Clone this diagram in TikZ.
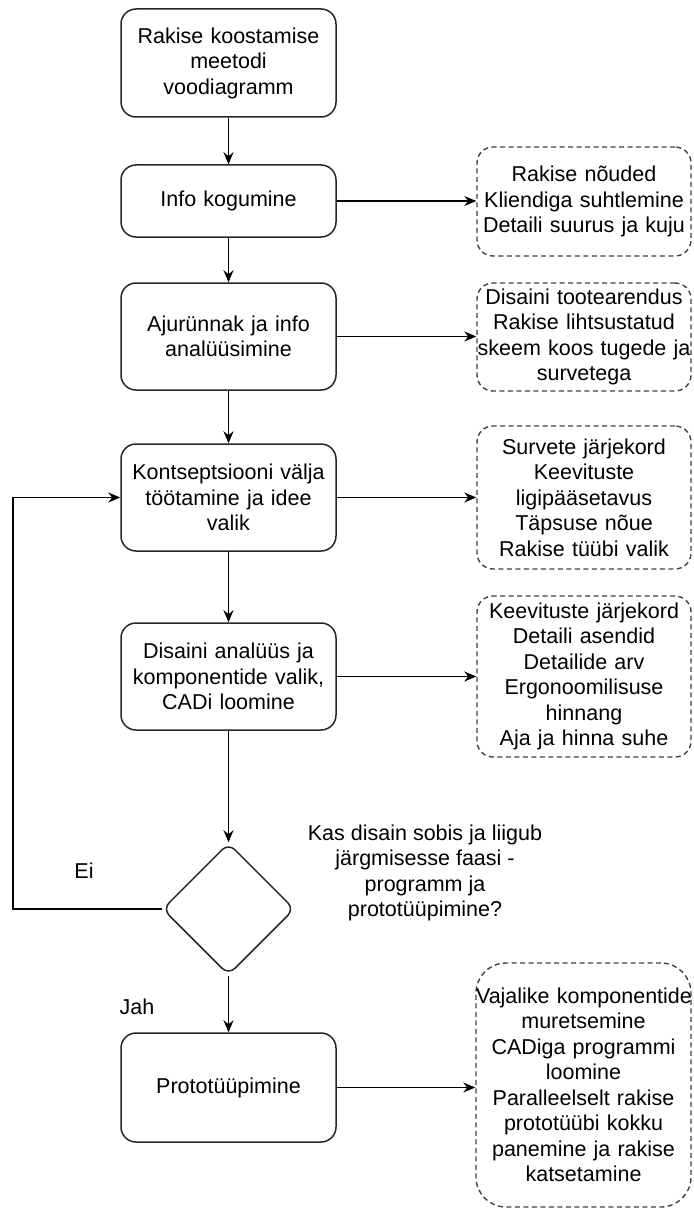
\documentclass[tikz,border=0pt]{standalone}
\usepackage{fontspec}
\setmainfont{Liberation Sans}
\usetikzlibrary{arrows.meta,shapes.geometric}
\begin{document}
\begin{tikzpicture}[x=1pt,y=-1pt,
  font=\fontsize{21.5}{25.5}\selectfont,
  proc/.style={draw=black!85, line width=1.5pt, rounded corners=15pt,
    minimum width=215pt, text width=215pt, inner xsep=0pt, inner ysep=0pt, align=center},
  note/.style={draw=black!75, line width=1.4pt, dash pattern=on 5pt off 3.5pt,
    rounded corners=16pt, minimum width=214pt, text width=214pt,
    inner xsep=0pt, inner ysep=0pt, align=center},
  arr/.style={-{Stealth[length=12pt,width=10pt]}, line width=1.5pt, draw=black},
  lbl/.style={align=center, inner sep=0pt}]
\useasboundingbox (0,0) rectangle (693,1209);

% main column
\node[proc, minimum height=108pt] (b1) at (228.5,63) {Rakise koostamise\\meetodi\\voodiagramm};
\node[proc, minimum height=72pt] (b2) at (228.5,201) {Info kogumine};
\node[proc, minimum height=107pt] (b3) at (228.5,336.5) {Ajurünnak ja info\\analüüsimine};
\node[proc, minimum height=107pt] (b4) at (228.5,497.5) {Kontseptsiooni välja\\töötamine ja idee\\valik};
\node[proc, minimum height=107pt] (b5) at (228.5,676.5) {Disaini analüüs ja\\komponentide valik,\\CADi loomine};
\node[draw=black!85, line width=1.5pt, diamond, minimum width=132pt, minimum height=132pt,
  inner sep=0pt, rounded corners=9pt] (d) at (228.5,909) {};
\node[proc, minimum height=109pt] (b6) at (228.5,1087.5) {Prototüüpimine};

% notes
\node[note, minimum height=109pt] (r1) at (584,201.5) {Rakise nõuded\\Kliendiga suhtlemine\\Detaili suurus ja kuju};
\node[note, minimum height=108pt] (r2) at (584,337) {Disaini tootearendus\\Rakise lihtsustatud\\skeem koos tugede ja\\survetega};
\node[note, minimum height=143pt] (r3) at (584,497.5) {Survete järjekord\\Keevituste\\ligipääsetavus\\Täpsuse nõue\\Rakise tüübi valik};
\node[note, minimum height=161pt] (r4) at (584,676.5) {Keevituste järjekord\\Detaili asendid\\Detailide arv\\Ergonoomilisuse\\hinnang\\Aja ja hinna suhe};
\node[note, minimum height=244pt, minimum width=215pt, text width=215pt, rounded corners=30pt] (r5) at (583.5,1085)
  {\mbox{Vajalike komponentide}\\muretsemine\\CADiga programmi\\loomine\\Paralleelselt rakise\\prototüübi kokku\\panemine ja rakise\\katsetamine};

% labels
\node[lbl] (q) at (425,873) {Kas disain sobis ja liigub\\järgmisesse faasi -\\programm ja\\prototüüpimine?};
\node[lbl] (ei) at (84,871) {Ei};
\node[lbl] (jah) at (137,1007) {Jah};

% connectors
\draw[arr] (b1.south) -- (b2.north);
\draw[arr] (b2.south) -- (b3.north);
\draw[arr] (b3.south) -- (b4.north);
\draw[arr] (b4.south) -- (b5.north);
\draw[arr] (b5.south) -- (d.north);
\draw[arr] (d.south) -- (b6.north);
\draw[arr] (b2.east) -- (b2.east -| r1.west);
\draw[arr] (b3.east) -- (b3.east -| r2.west);
\draw[arr] (b4.east) -- (b4.east -| r3.west);
\draw[arr] (b5.east) -- (b5.east -| r4.west);
\draw[arr] (b6.east) -- (b6.east -| r5.west);
\coordinate (loop) at (13,909);
\draw[arr] (d.west) -- (loop) |- (b4.west);
\end{tikzpicture}
\end{document}
